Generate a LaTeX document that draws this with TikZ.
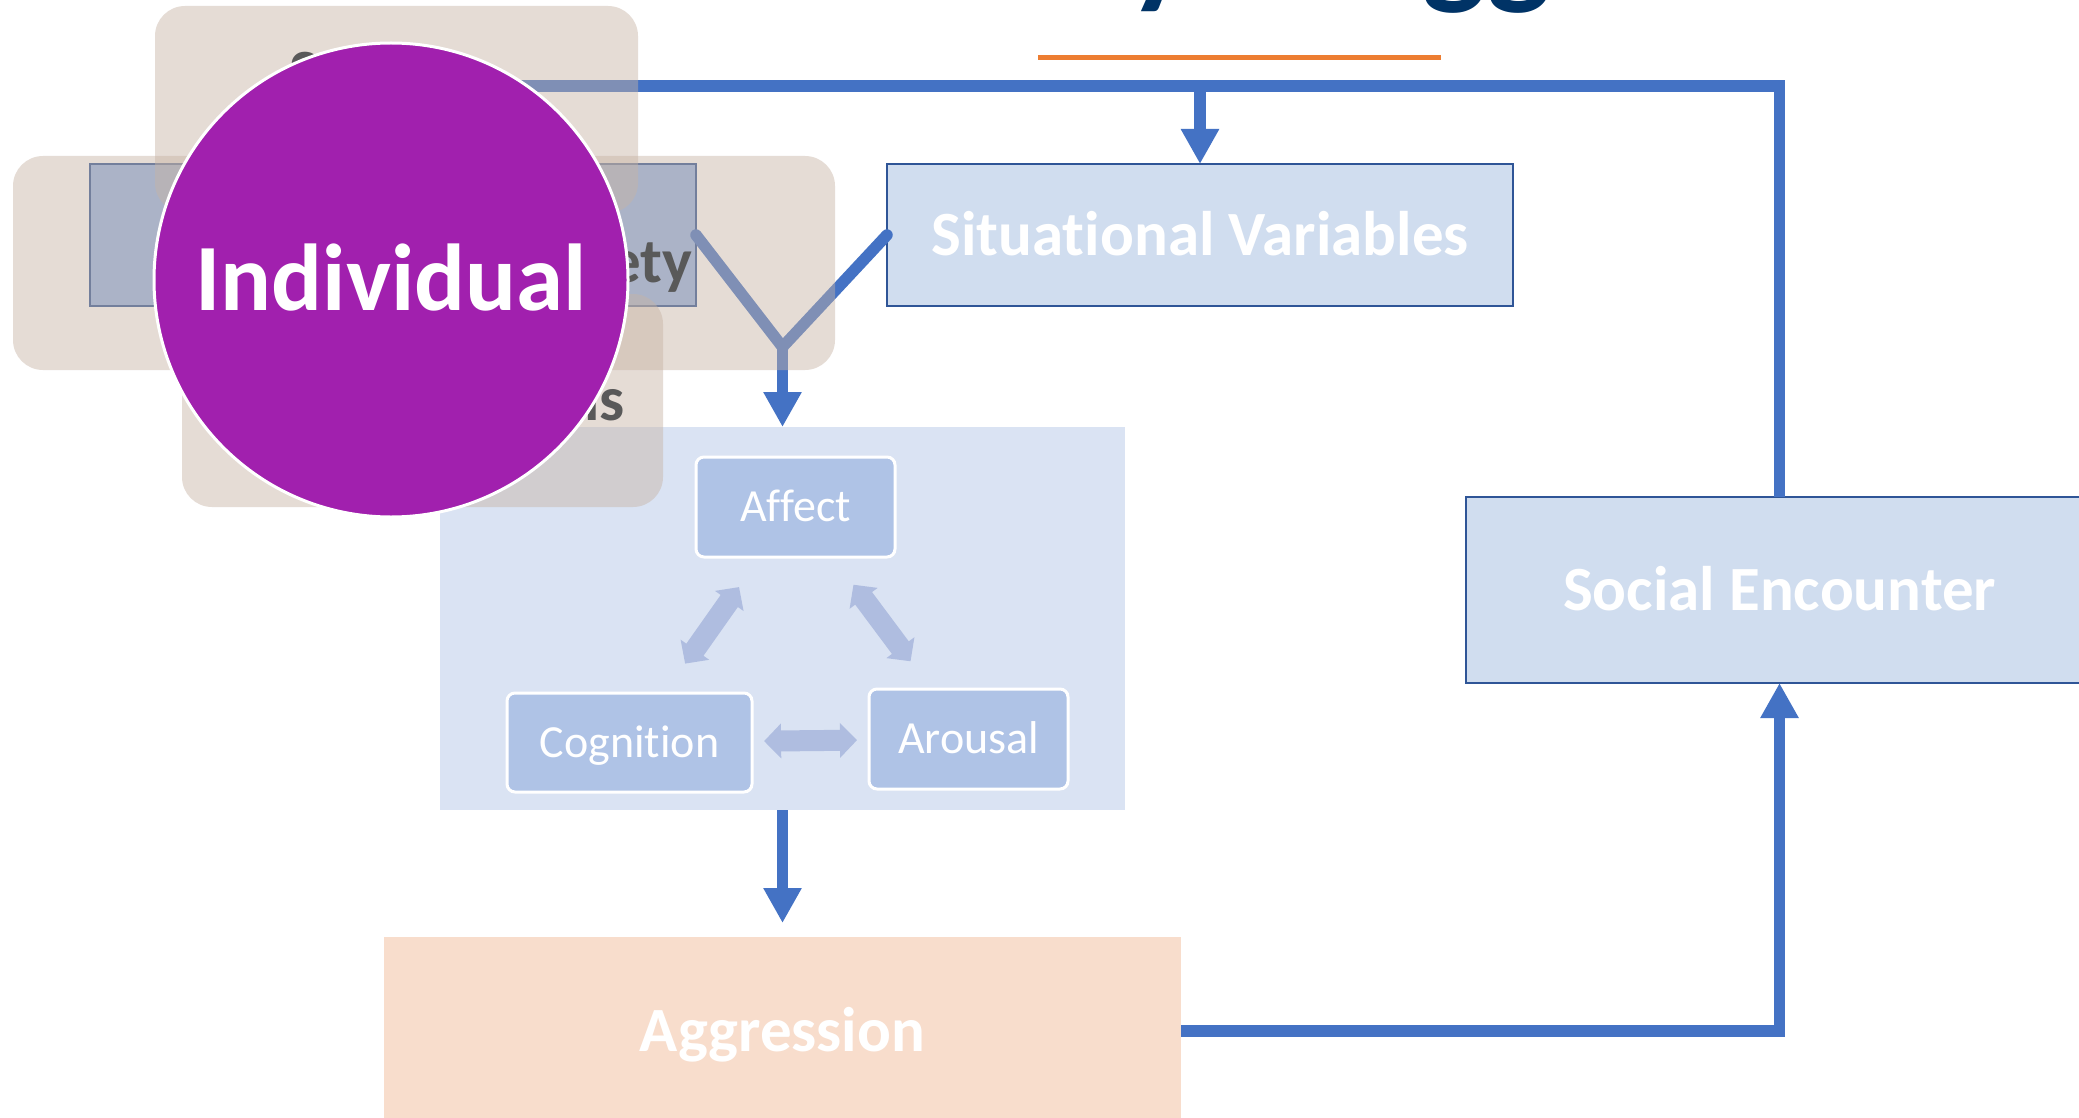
\documentclass[tikz,border=0pt]{standalone}
\usepackage{fontspec}
\setmainfont{Carlito}[Ligatures=NoCommon]
\usetikzlibrary{arrows.meta,calc}
\definecolor{lineblue}{HTML}{4472C4}
\definecolor{boxfill}{HTML}{D0DDEF}
\definecolor{boxborder}{HTML}{2F5597}
\definecolor{panelfill}{HTML}{DAE3F3}
\definecolor{innerfill}{HTML}{AFC3E6}
\definecolor{dblarrow}{HTML}{AFBDE0}
\definecolor{aggfill}{HTML}{F8DDCC}
\definecolor{indpurple}{HTML}{A120AE}
\definecolor{accent}{HTML}{ED7D31}
\definecolor{navy}{HTML}{003366}
\definecolor{veiltan}{RGB}{199,179,164}
\definecolor{fraggray}{HTML}{595959}
\definecolor{perfill}{RGB}{148,179,228}
\begin{document}
\begin{tikzpicture}[x=1pt,y=-1pt,
  every node/.style={inner sep=0pt, outer sep=0pt},
  bigbox/.style={draw=boxborder, line width=2.5pt, fill=boxfill, text=white,
    font=\fontsize{63}{70}\selectfont\bfseries, text height=40pt, text depth=0pt},
  innerbox/.style={draw=white, line width=3pt, fill=innerfill, rounded corners=8pt, text=white,
    font=\fontsize{46}{50}\selectfont, text height=29pt, text depth=0pt},
  conn/.style={lineblue, line width=11.5pt},
  arr/.style={conn, -{Triangle[length=35pt,width=36pt]}},
  dbl/.style={dblarrow, line width=21pt, {Triangle[length=17pt,width=34pt]}-{Triangle[length=17pt,width=34pt]}},
  veil/.style={fill=veiltan, fill opacity=0.45, rounded corners=30pt},
  frag/.style={text=fraggray, font=\fontsize{63}{70}\selectfont\bfseries}
]
\useasboundingbox (0,0) rectangle (2079,1118);
\fill[white] (0,0) rectangle (2079,1118);

% title fragments (cut off by the top edge)
\begin{scope}
\clip (0,0) rectangle (2079,1118);
\node[anchor=base west, text=navy, font=\fontsize{135}{140}\selectfont\bfseries] (ty) at (1128,-9) {y};
\node[anchor=base west, text=navy, font=\fontsize{135}{140}\selectfont\bfseries] (tg) at (1422,-9) {gg};
\end{scope}
\draw[accent, line width=5pt] (1038,57.5) -- (1441,57.5);

% panel with inner triangle
\node[fill=panelfill, minimum width=685pt, minimum height=383pt] (panel) at (782.5,618.5) {};
\node[innerbox, minimum width=199pt, minimum height=100pt] (aff) at (795.5,507) {Affect};
\node[innerbox, minimum width=245pt, minimum height=99pt] (cog) at (629.5,742.5) {Cognition};
\node[innerbox, minimum width=199pt, minimum height=100pt] (aro) at (968.5,739) {Arousal};
\draw[dbl] ($(cog.center)!0.335!(aff.center)$) -- ($(cog.center)!0.66!(aff.center)$);
\draw[dbl] ($(aff.center)!0.335!(aro.center)$) -- ($(aff.center)!0.665!(aro.center)$);
\draw[dbl] ($(cog.center)!0.397!(aro.center)$) -- ($(cog.center)!0.671!(aro.center)$);

% main boxes
\node[draw=boxborder, line width=2.5pt, fill=perfill, minimum width=606pt, minimum height=142pt] (per) at (393,235) {};
\node[bigbox, minimum width=626pt, minimum height=142pt] (sit) at (1200,235) {Situational Variables};
\node[bigbox, minimum width=627pt, minimum height=186pt] (soc) at (1779.5,590) {Social Encounter};
\node[fill=aggfill, text=white, font=\fontsize{63}{70}\selectfont\bfseries, text height=40pt, text depth=0pt,
  minimum width=797pt, minimum height=188pt] (agg) at (782.5,1031) {Aggression};

% connectors
\coordinate (tl) at (391,86);
\coordinate (merge) at (782.5,347);
\draw[conn] (tl) -| (soc.north);
\draw[arr] (sit.north |- tl) -- (sit.north);
\draw[conn, line cap=round, line join=round] (per.east) -- (merge) -- (sit.west);
\draw[arr] (merge) -- (panel.north);
\draw[arr, shorten >=14pt] (panel.south) -- (agg.north);
\draw[arr] (agg.east) -| (soc.south);

% translucent rounded boxes
\node[veil, minimum width=822pt, minimum height=214pt] (vleft) at (424,263) {};
\node[veil, minimum width=483pt, minimum height=207pt] (vtop) at (396.5,109.5) {};
\node[veil, minimum width=481pt, minimum height=213pt] (vbot) at (422.5,400.5) {};

% text fragments
\node[frag, anchor=base west] (fs) at (289,94) {S};
\node[frag, anchor=base east] (fety) at (692,282) {ety};
\node[frag, anchor=base east] (fls) at (625,420) {ls};

% individual circle
\node[circle, fill=indpurple, draw=white, line width=3pt, minimum size=474pt, text=white,
  font=\fontsize{95}{100}\selectfont\bfseries, text height=60pt, text depth=0pt] (ind) at (391,280) {Individual};
\end{tikzpicture}
\end{document}
